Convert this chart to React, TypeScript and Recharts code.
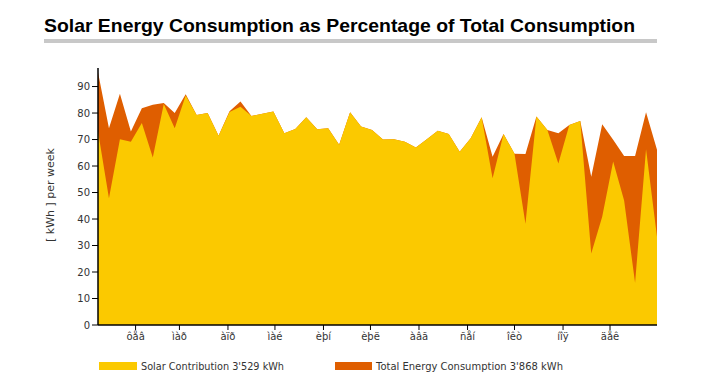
import { AreaChart, Area, XAxis, YAxis } from "recharts";

// weekly values
const solarKwh = [
  73.0, 47.8, 70.1, 69.2, 76.2, 63.2, 83.4, 74.3, 86.6, 79.3, 80.0, 71.4, 80.4,
  82.4, 78.9, 79.7, 80.6, 72.4, 74.0, 78.4, 73.9, 74.3, 68.0, 80.3, 74.9, 73.6,
  70.0, 70.1, 69.2, 67.0, 70.1, 73.3, 72.1, 65.4, 70.5, 78.4, 55.4, 72.1, 64.6,
  38.2, 78.7, 73.6, 61.0, 75.5, 77.0, 27.0, 40.9, 61.7, 47.0, 15.9, 66.3, 33.3,
];
const totalKwh = [
  95.4, 74.3, 87.3, 73.0, 81.8, 83.1, 83.8, 80.0, 87.1, 79.3, 80.0, 71.4, 80.7,
  84.4, 78.9, 79.7, 80.6, 72.4, 74.0, 78.4, 73.9, 74.3, 68.0, 80.3, 74.9, 73.6,
  70.0, 70.1, 69.2, 67.0, 70.1, 73.3, 72.1, 65.4, 70.5, 78.4, 63.5, 72.1, 64.6,
  64.5, 78.7, 73.6, 72.4, 75.5, 77.0, 56.0, 75.8, 69.9, 63.8, 63.8, 80.3, 66.1,
];

// month labels as shown (cp1251 text shown as latin1)
const monthLabels = ["ôåâ", "ìàð", "àïð", "ìàé", "èþí", "èþë", "àâã", "ñåí", "îêò", "íîÿ", "äåê"];
const monthStartDays = [31, 59, 90, 120, 151, 181, 212, 243, 273, 304, 334];
const yTicks = [0, 10, 20, 30, 40, 50, 60, 70, 80, 90];

const firstDay = 7;

const data = solarKwh.map((s, i) => ({
  day: firstDay + i * 7,
  solar: s,
  total: totalKwh[i],
}));

const YELLOW = "#FBC900";
const ORANGE = "#DF5E00";
const TEXT = "#333333";
const FONT = "'DejaVu Sans', sans-serif";

export default function App() {
  return (
    <div style={{ position: "absolute", left: 0, top: 0, width: 707, height: 392, background: "#fff" }}>
      <AreaChart
        width={707}
        height={392}
        data={data}
        margin={{ top: 68, right: 50, bottom: 37, left: 38 }}
      >
        <XAxis
          dataKey="day"
          type="number"
          domain={[firstDay, firstDay + (solarKwh.length - 1) * 7]}
          ticks={monthStartDays}
          tickFormatter={(d: number) => monthLabels[monthStartDays.indexOf(d)] ?? ""}
          height={30}
          tickSize={5}
          tickMargin={3}
          axisLine={{ stroke: "#000", strokeWidth: 1.5 }}
          tickLine={{ stroke: "#000" }}
          tick={{ fill: TEXT, fontSize: 10, fontFamily: FONT }}
        />
        <YAxis
          type="number"
          domain={[0, 97]}
          ticks={yTicks}
          width={60}
          tickSize={6}
          tickMargin={2}
          axisLine={{ stroke: "#000", strokeWidth: 1.5 }}
          tickLine={{ stroke: "#000" }}
          tick={{ fill: TEXT, fontSize: 10, fontFamily: FONT }}
        />
        <Area
          type="linear"
          dataKey="total"
          stroke="none"
          fill={ORANGE}
          fillOpacity={1}
          dot={false}
          activeDot={false}
          isAnimationActive={false}
        />
        <Area
          type="linear"
          dataKey="solar"
          stroke="none"
          fill={YELLOW}
          fillOpacity={1}
          dot={false}
          activeDot={false}
          isAnimationActive={false}
        />
      </AreaChart>

      <svg
        width={707}
        height={392}
        style={{ position: "absolute", left: 0, top: 0, pointerEvents: "none" }}
      >
        <text
          x={44}
          y={32}
          textLength={591}
          lengthAdjust="spacingAndGlyphs"
          fontFamily="'Liberation Sans', sans-serif"
          fontWeight="bold"
          fontSize={19}
          fill="#000"
        >
          Solar Energy Consumption as Percentage of Total Consumption
        </text>
        <rect x={44} y={39} width={613} height={4} fill="#C8C8C8" />

        <text
          transform="translate(54,195) rotate(-90)"
          textAnchor="middle"
          fontFamily={FONT}
          fontSize={11}
          fill={TEXT}
        >
          [ kWh ]  per week
        </text>

        <rect x={99} y={362} width={38} height={8} fill={YELLOW} />
        <text x={141} y={370} textLength={143} lengthAdjust="spacingAndGlyphs" fontFamily={FONT} fontSize={11} fill={TEXT}>
          Solar Contribution 3'529 kWh
        </text>
        <rect x={335} y={362} width={37} height={8} fill={ORANGE} />
        <text x={376} y={370} textLength={187} lengthAdjust="spacingAndGlyphs" fontFamily={FONT} fontSize={11} fill={TEXT}>
          Total Energy Consumption 3'868 kWh
        </text>
      </svg>
    </div>
  );
}
